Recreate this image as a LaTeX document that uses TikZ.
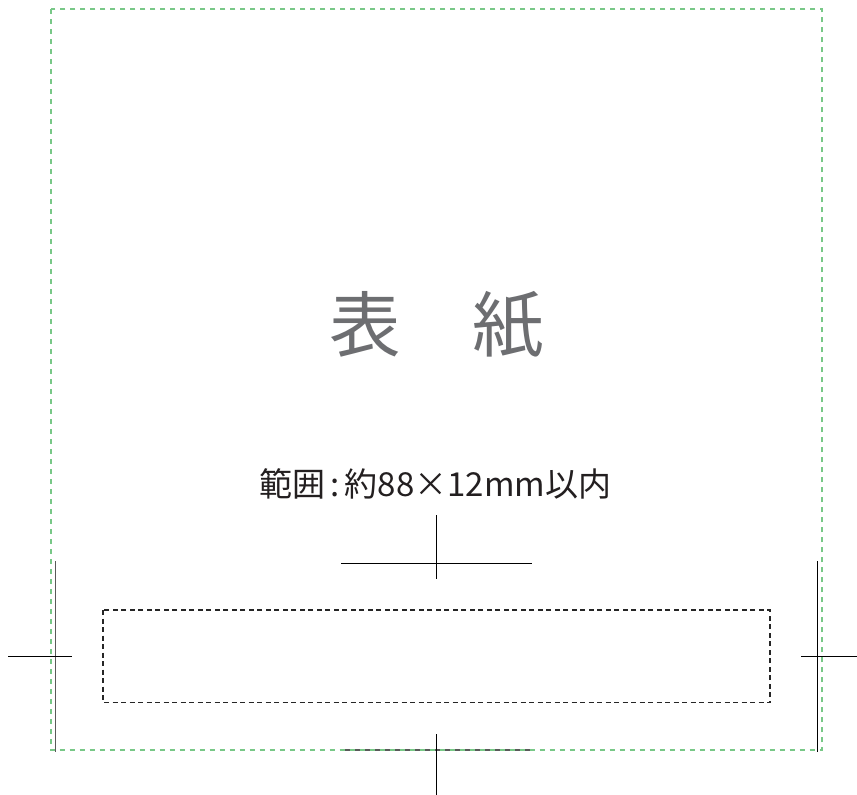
\documentclass[tikz,border=0pt]{standalone}
\usepackage{fontspec}
\setmainfont{Noto Sans CJK JP}
\newfontfamily\jpfont{Noto Sans CJK JP}
\definecolor{bleedgreen}{RGB}{120,200,135}
\definecolor{titlegray}{RGB}{109,110,113}
\definecolor{textdark}{RGB}{35,31,32}
\begin{document}
\begin{tikzpicture}[x=1pt,y=-1pt,
  bleed/.style={draw=bleedgreen,line width=2pt,dash pattern=on 5pt off 5pt},
  area/.style={draw=black!85,line width=1.3pt,dash pattern=on 5pt off 3.5pt},
  trim/.style={draw=black,line width=1pt},
  trimgray/.style={draw=black!65,line width=1.3pt},
  titletext/.style={text=titlegray,font=\jpfont\fontsize{71.5}{80}\selectfont,inner sep=0pt},
  infotext/.style={text=textdark,font=\jpfont\fontsize{33}{38}\selectfont,inner sep=0pt}]
\useasboundingbox[fill=white] (0,0) rectangle (857,795);
% trim lines (gray verticals and bottom horizontal)
\draw[trimgray] (55.7,561) -- (55.7,752);
\draw[trim] (817,561) -- (817,752);
\draw[trimgray] (341,750) -- (532,750);
% bleed line
\draw[bleed] (50.7,9) rectangle (822,750);
% cut marks
\draw[trim] (8,656) -- (72,656);
\draw[trim] (801,656) -- (857,656);
\draw[trim] (436,515) -- (436,579);
\draw[trim] (341,563) -- (532,563);
\draw[trim] (436,734) -- (436,795);
% content area
\draw[area] (103,610) rectangle (770,702.5);
% texts
\node[titletext] (title) at (437,325) {表　紙};
\node[infotext] (info) at (435.5,484) {範囲\hspace{5pt}:\hspace{5pt}約88×12mm以内};
\end{tikzpicture}
\end{document}
